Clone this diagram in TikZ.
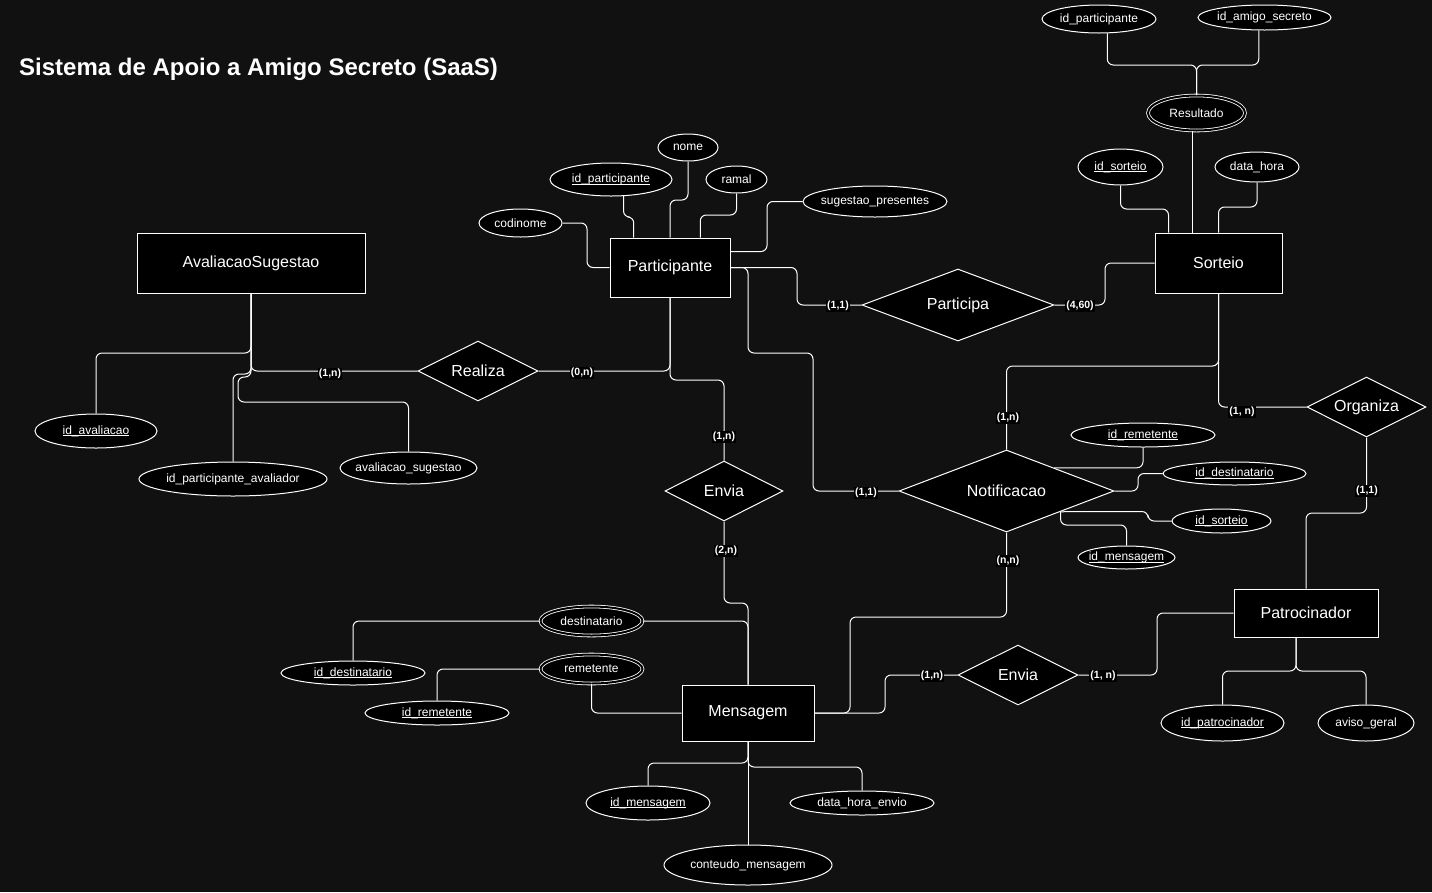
\documentclass[tikz,border=0pt]{standalone}
\usepackage{fontspec}
\setmainfont{Liberation Sans}
\usetikzlibrary{shapes.geometric,calc}
\definecolor{bg}{HTML}{111111}
\newcommand\myul[1]{\setbox0\hbox{#1}\rlap{\rule[-1.5pt]{\wd0}{0.6pt}}\box0}
\tikzset{
  ent/.style={rectangle, draw=white, fill=black, line width=1pt, text=white, font=\fontsize{16}{19}\selectfont, inner sep=0pt},
  rel/.style={diamond, draw=white, fill=black, line width=1pt, inner sep=0pt},
  attr/.style={ellipse, draw=white, fill=black, line width=1pt, inner sep=0pt},
  dattr/.style={ellipse, draw=white, fill=black, double=black, double distance=2pt, line width=0.8pt, inner sep=0pt},
  lbl/.style={text=white, font=\fontsize{12}{14}\selectfont, inner sep=0pt},
  rlbl/.style={text=white, font=\fontsize{16}{19}\selectfont, inner sep=0pt},
  card/.style={fill=black, text=white, font=\bfseries\fontsize{10.5}{12}\selectfont, inner sep=1pt},
  conn/.style={draw=white, line width=1pt, rounded corners=6pt}
}
\begin{document}
\begin{tikzpicture}[x=1pt,y=-1pt]
\fill[bg] (0,0) rectangle (1432,892);
\useasboundingbox (0,0) rectangle (1432,892);
\node[anchor=west, text=white, font=\bfseries\fontsize{24}{28}\selectfont, inner sep=0pt] (title) at (19,69) {Sistema de Apoio a Amigo Secreto (SaaS)};

% entities
\node[ent, minimum width=228, minimum height=60] (avs) at (251,263) {AvaliacaoSugestao};
\node[ent, minimum width=120, minimum height=59] (part) at (670,267.5) {Participante};
\node[ent, minimum width=127, minimum height=60] (sort) at (1218.5,263) {Sorteio};
\node[ent, minimum width=132, minimum height=56] (msg) at (748,713) {Mensagem};
\node[ent, minimum width=144, minimum height=48] (pat) at (1306,613) {Patrocinador};

% relationships
\node[rel, minimum width=120, minimum height=60] (realiza) at (478,371) {};
\node[rlbl] at (realiza) {Realiza};
\node[rel, minimum width=192, minimum height=72] (participa) at (958,305) {};
\node[rlbl] at (participa) {Participa};
\node[rel, minimum width=118, minimum height=60] (envia1) at (724,491) {};
\node[rlbl] at (envia1) {Envia};
\node[rel, minimum width=215, minimum height=82] (notif) at (1006.5,491) {};
\node[rlbl] at (notif) {Notificacao};
\node[rel, minimum width=119, minimum height=60] (organiza) at (1366.5,407) {};
\node[rlbl] at (organiza) {Organiza};
\node[rel, minimum width=120, minimum height=60] (envia2) at (1018,675) {};
\node[rlbl] at (envia2) {Envia};

% attributes of Participante
\node[attr, minimum width=60, minimum height=27] (a_nome) at (688,147.5) {};
\node[lbl] at (a_nome) {nome};
\node[attr, minimum width=122, minimum height=33] (a_idpart) at (611,179.5) {};
\node[lbl] at (a_idpart) {\myul{id\_participante}};
\node[attr, minimum width=61, minimum height=27] (a_ramal) at (736.5,179.5) {};
\node[lbl] at (a_ramal) {ramal};
\node[attr, minimum width=83, minimum height=28] (a_codinome) at (520.5,223) {};
\node[lbl] at (a_codinome) {codinome};
\node[attr, minimum width=144, minimum height=31] (a_sug) at (875,201.5) {};
\node[lbl] at (a_sug) {sugestao\_presentes};

% Resultado
\node[attr, minimum width=114, minimum height=28] (r_idpart) at (1099,19) {};
\node[lbl] at (r_idpart) {id\_participante};
\node[attr, minimum width=133, minimum height=25] (r_idamigo) at (1264.5,17.5) {};
\node[lbl] at (r_idamigo) {id\_amigo\_secreto};
\node[dattr, minimum width=97, minimum height=35] (resultado) at (1196.5,113) {};
\node[lbl] at (resultado) {Resultado};

% Sorteio attributes
\node[attr, minimum width=85, minimum height=36] (s_idsort) at (1120.5,167) {};
\node[lbl] at (s_idsort) {\myul{id\_sorteio}};
\node[attr, minimum width=84, minimum height=30] (s_datahora) at (1257,167) {};
\node[lbl] at (s_datahora) {data\_hora};

% AvaliacaoSugestao attributes
\node[attr, minimum width=122, minimum height=34] (av_id) at (96,431) {};
\node[lbl] at (av_id) {\myul{id\_avaliacao}};
\node[attr, minimum width=188, minimum height=34] (av_idpa) at (233,479) {};
\node[lbl] at (av_idpa) {id\_participante\_avaliador};
\node[attr, minimum width=137, minimum height=32] (av_aval) at (408.5,468) {};
\node[lbl] at (av_aval) {avaliacao\_sugestao};

% Notificacao attributes
\node[attr, minimum width=144, minimum height=24] (n_idrem) at (1143,435) {};
\node[lbl] at (n_idrem) {\myul{id\_remetente}};
\node[attr, minimum width=143, minimum height=23] (n_iddest) at (1234.5,473.5) {};
\node[lbl] at (n_iddest) {\myul{id\_destinatario}};
\node[attr, minimum width=99, minimum height=24] (n_idsort) at (1221.5,521) {};
\node[lbl] at (n_idsort) {\myul{id\_sorteio}};
\node[attr, minimum width=97, minimum height=23] (n_idmsg) at (1126.5,557.5) {};
\node[lbl] at (n_idmsg) {\myul{id\_mensagem}};

% Mensagem attributes
\node[dattr, minimum width=102, minimum height=29] (m_dest) at (591.5,621) {};
\node[lbl] at (m_dest) {destinatario};
\node[attr, minimum width=144, minimum height=24] (m_iddest) at (353,673) {};
\node[lbl] at (m_iddest) {\myul{id\_destinatario}};
\node[dattr, minimum width=102, minimum height=29] (m_rem) at (591.5,669) {};
\node[lbl] at (m_rem) {remetente};
\node[attr, minimum width=144, minimum height=24] (m_idrem) at (437,713) {};
\node[lbl] at (m_idrem) {\myul{id\_remetente}};
\node[attr, minimum width=124, minimum height=34] (m_idmsg) at (648,803) {};
\node[lbl] at (m_idmsg) {\myul{id\_mensagem}};
\node[attr, minimum width=144, minimum height=24] (m_dhe) at (862,803) {};
\node[lbl] at (m_dhe) {data\_hora\_envio};
\node[attr, minimum width=168, minimum height=40] (m_cont) at (748,865) {};
\node[lbl] at (m_cont) {conteudo\_mensagem};

% Patrocinador attributes
\node[attr, minimum width=123, minimum height=36] (p_idpat) at (1222.5,723) {};
\node[lbl] at (p_idpat) {\myul{id\_patrocinador}};
\node[attr, minimum width=96, minimum height=36] (p_aviso) at (1366,723) {};
\node[lbl] at (p_aviso) {aviso\_geral};

% attachment coordinates
\coordinate (pA) at ($(part.north west)!0.2!(part.north east)$);
\coordinate (pB) at ($(part.north west)!0.75!(part.north east)$);
\coordinate (pC) at ($(part.north east)+(0,14)$);
\coordinate (sE) at ($(sort.north west)+(14,0)$);
\coordinate (sF) at ($(sort.north west)+(38,0)$);
\coordinate (pD) at ($(pat.south)+(-10,0)$);
\coordinate (nA) at ($(notif.north)!0.44!(notif.east)$);
\coordinate (nB) at ($(notif.east)!0.5!(notif.south)$);

% connectors: Participante attributes
\draw[conn] (a_nome.south) -- (a_nome.south |- 0,200) -| (part.north);
\draw[conn] (a_idpart.-53) -- (a_idpart.-53 |- 0,217) -| (pA);
\draw[conn] (a_ramal.south) -- (a_ramal.south |- 0,215) -| (pB);
\draw[conn] (a_codinome.east) -- (587,223) |- (part.west);
\draw[conn] (a_sug.west) -- (767,201.5) |- (pC);

% Participante relations
\draw[conn] (part.east) -- (797,267.5) |- (participa.west);
\draw[conn] (participa.east) -- (1105,305) |- (sort.west);
\draw[conn] (part.east) -- (748,267.5) -- (748,353) -- (813,353) |- (notif.west);
\draw[conn] (part.south) |- (realiza.east);
\draw[conn] (part.south) -- (part.south |- 0,380) -| (envia1.north);
\draw[conn] (realiza.west) -| (avs.south);

% AvaliacaoSugestao attributes
\draw[conn] (avs.south) -- (avs.south |- 0,353) -| (av_id.north);
\draw[conn] (avs.south) -- (avs.south |- 0,374) -| (av_idpa.north);
\draw[conn] (avs.south) -- (avs.south |- 0,377) -- (238,377) -- (238,402) -| (av_aval.north);

% Mensagem
\draw[conn] (envia1.south) -- (envia1.south |- 0,603) -| (msg.north);
\draw[conn] (m_dest.east) -| (msg.north);
\draw[conn] (m_dest.west) -| (m_iddest.north);
\draw[conn] (m_rem.west) -| (m_idrem.north);
\draw[conn] (m_rem.south) |- (msg.west);
\draw[conn] (msg.south) -- (msg.south |- 0,763) -| (m_idmsg.north);
\draw[conn] (msg.south) -- (m_cont.north);
\draw[conn] (msg.south) -- (msg.south |- 0,767) -| (m_dhe.north);
\draw[conn] (msg.east) -- (850,713) -- (850,617) -| (notif.south);
\draw[conn] (msg.east) -- (885,713) |- (envia2.west);
\draw[conn] (envia2.east) -- (1157,675) |- (pat.west);

% Patrocinador
\draw[conn] (pD) -- (pD |- 0,671) -| (p_idpat.north);
\draw[conn] (pD) -- (pD |- 0,671) -| (p_aviso.north);
\draw[conn] (pat.north) -- (pat.north |- 0,513) -| (organiza.south);

% Sorteio
\draw[conn] (sort.south) -- (sort.south |- 0,366) -| (notif.north);
\draw[conn] (sort.south) |- (organiza.west);
\draw[conn] (s_idsort.south) -- (s_idsort.south |- 0,209) -| (sE);
\draw[conn] (sF |- resultado.south) -- (sF);
\draw[conn] (s_datahora.south) -- (s_datahora.south |- 0,207) -| (sort.north);
\draw[conn] (resultado.north) -- (resultado.north |- 0,65) -| (r_idpart.-60);
\draw[conn] (resultado.north) -- (resultado.north |- 0,65) -| (r_idamigo.-114);

% Notificacao attributes
\draw[conn] (n_idrem.south) |- (nA);
\draw[conn] (notif.east) -- (1138,491) |- (n_iddest.west);
\draw[conn] (nB) -- (1148,511.5) |- (n_idsort.west);
\draw[conn] (nB) -- (nB |- 0,525) -| (n_idmsg.north);

% cardinalities
\node[card] (c1) at (838,306) {(1,1)};
\node[card] (c2) at (1080,306) {(4,60)};
\node[card] (c3) at (866,493) {(1,1)};
\node[card] (c4) at (582,373) {(0,n)};
\node[card] (c5) at (724,437) {(1,n)};
\node[card] (c6) at (330,374) {(1,n)};
\node[card] (c7) at (726,551) {(2,n)};
\node[card] (c8) at (1008,561) {(n,n)};
\node[card] (c9) at (932,676) {(1,n)};
\node[card] (c10) at (1103,676) {(1, n)};
\node[card] (c11) at (1367,491) {(1,1)};
\node[card] (c12) at (1008,418) {(1,n)};
\node[card] (c13) at (1242,412) {(1, n)};
\end{tikzpicture}
\end{document}
